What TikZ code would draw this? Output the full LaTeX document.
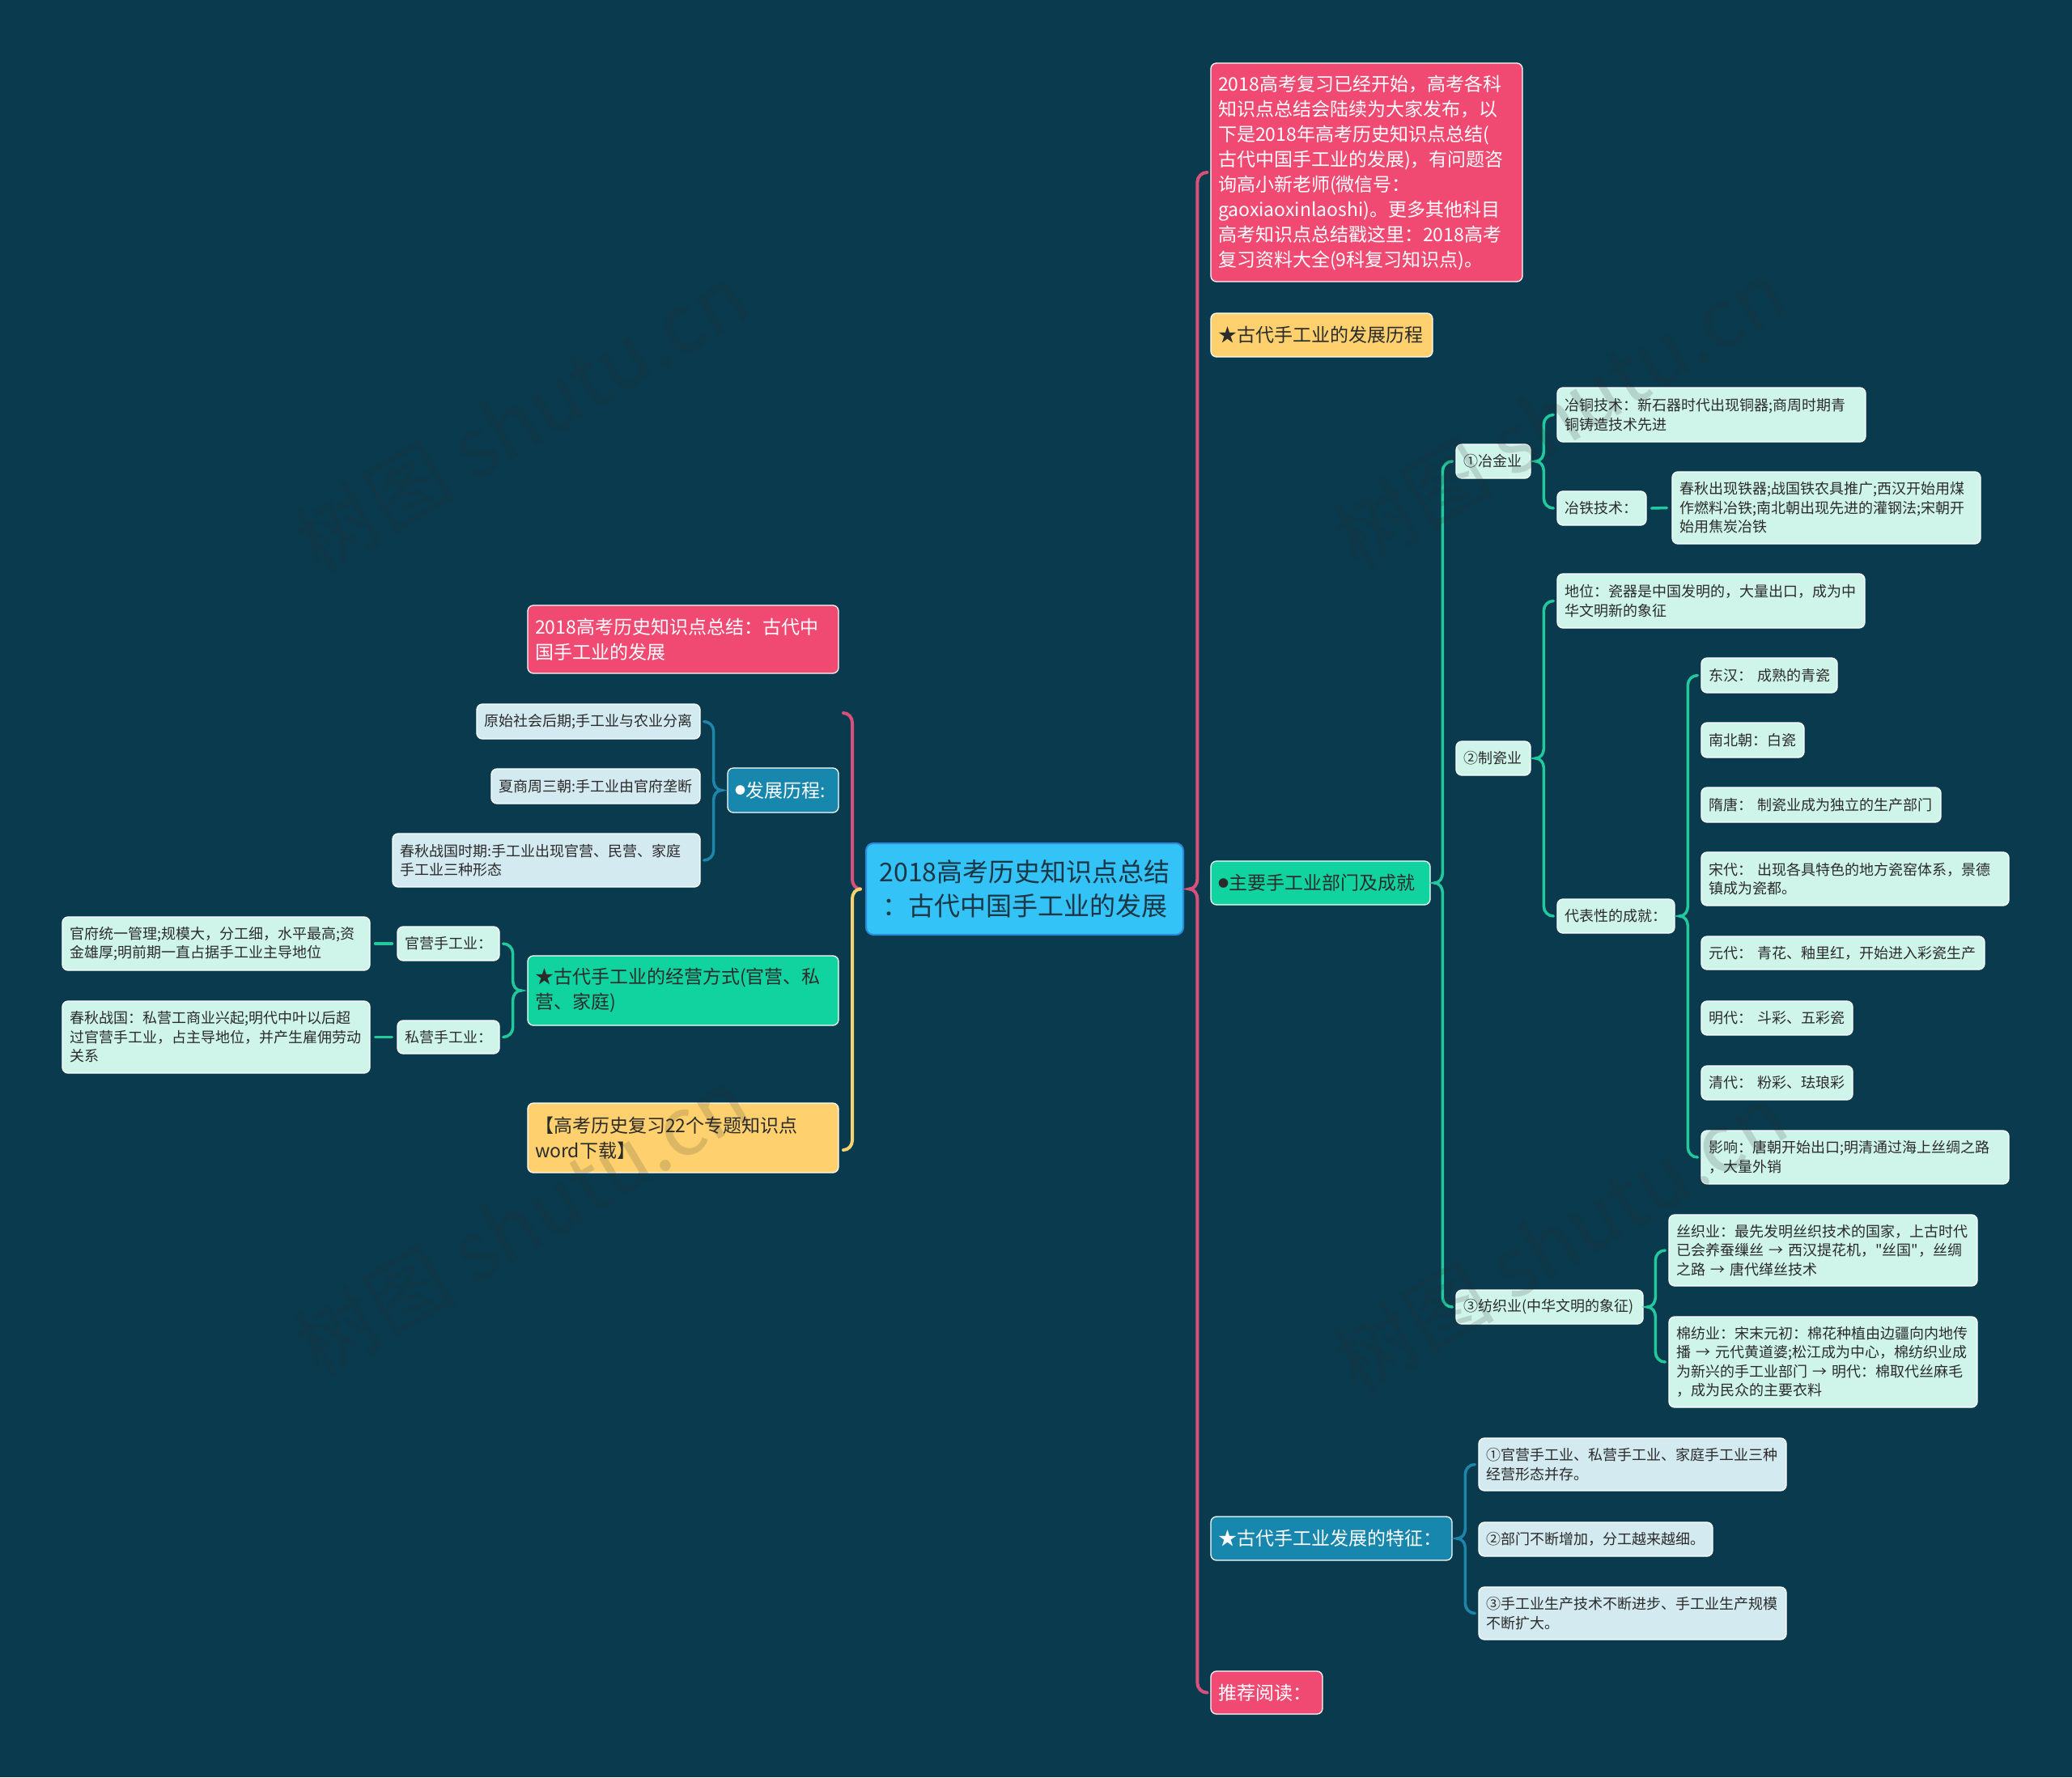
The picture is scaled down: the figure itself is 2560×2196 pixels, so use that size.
\documentclass[tikz,border=0pt]{standalone}
\usepackage{fontspec}
\setmainfont{Noto Sans CJK SC}[Ligatures=TeXOff]
\usetikzlibrary{calc}
\definecolor{cBg}{HTML}{093A4D}
\definecolor{cPink}{HTML}{F04A73}
\definecolor{cYellow}{HTML}{FED16E}
\definecolor{cGreen}{HTML}{11D39F}
\definecolor{cBlue}{HTML}{1787AD}
\definecolor{cRoot}{HTML}{33C3F6}
\definecolor{cRootB}{HTML}{2C88D8}
\definecolor{cMint}{HTML}{CFF5EB}
\definecolor{cLBlue}{HTML}{D3EAF0}
\definecolor{cTxt}{HTML}{2B2B2B}
\definecolor{cRootT}{HTML}{1C3645}
\definecolor{lPink}{HTML}{D9507A}
\definecolor{lGreen}{HTML}{22C99C}
\definecolor{lBlue}{HTML}{1D86AA}
\definecolor{lYellow}{HTML}{F6D271}
\definecolor{cWm}{HTML}{2A2A2A}
\newcommand\fsL{\fontsize{32}{42}\selectfont}
\newcommand\fsM{\fontsize{23}{31}\selectfont}
\newcommand\fsS{\fontsize{18}{23.5}\selectfont}
\newcommand\bul{\raisebox{3.5pt}{\fontsize{13}{13}\selectfont ●}}
\newcommand\bx[7]{%
 \pgfmathsetmacro\bxcx{(#2+#4)/2}%
 \pgfmathsetmacro\bxcy{(#3+#5)/2}%
 \pgfmathsetmacro\bxw{#4-#2}%
 \pgfmathsetmacro\bxh{#5-#3}%
 \pgfmathsetmacro\bxtw{#4-#2-18}%
 \node[#6, minimum width=\bxw pt, minimum height=\bxh pt, text width=\bxtw pt] (#1) at (\bxcx,\bxcy) {#7};}
% bracket, children on the right
\newcommand\brR[4]{%
 \draw[#1] let \p1=(#2.west), \p2=(#3.west), \p3=(#4.east) in
  (\x1-4pt,\y1) to[out=180,in=90] (\x1-16pt,\y1-12pt) -- (\x1-16pt,\y3+12pt)
  to[out=-90,in=0] (\x1-26pt,\y3) to[out=0,in=90] (\x1-16pt,\y3-12pt)
  -- (\x1-16pt,\y2+12pt) to[out=-90,in=180] (\x1-4pt,\y2);}
% bracket, children on the left
\newcommand\brL[4]{%
 \draw[#1] let \p1=(#2.east), \p2=(#3.east), \p3=(#4.west) in
  (\x1+4pt,\y1) to[out=0,in=90] (\x1+16pt,\y1-12pt) -- (\x1+16pt,\y3+12pt)
  to[out=-90,in=180] (\x1+26pt,\y3) to[out=180,in=90] (\x1+16pt,\y3-12pt)
  -- (\x1+16pt,\y2+12pt) to[out=-90,in=0] (\x1+4pt,\y2);}
\tikzset{
 base/.style={rounded corners=7pt, inner xsep=9pt, inner ysep=2pt, align=left, line width=1.3pt, draw=white},
 pinkn/.style={base, fill=cPink, text=white, font=\fsM},
 yelln/.style={base, fill=cYellow, text=cTxt, font=\fsM},
 greenn/.style={base, fill=cGreen, text=cTxt, font=\fsM},
 bluen/.style={base, fill=cBlue, text=white, font=\fsM},
 rootn/.style={base, rounded corners=9pt, fill=cRoot, draw=cRootB, line width=2pt, text=cRootT, font=\fsL, align=center},
 mintn/.style={base, fill=cMint, text=cTxt, font=\fsS},
 lbluen/.style={base, fill=cLBlue, text=cTxt, font=\fsS},
 conn/.style={line width=4pt, line cap=round},
 cpink/.style={conn, lPink},
 cgreen/.style={conn, lGreen, line width=3.5pt},
 cblue/.style={conn, lBlue, line width=3.5pt},
 cyellow/.style={conn, lYellow},
 wmark/.style={text=cWm, text opacity=0.16, font=\fontsize{100}{100}\selectfont, rotate=31, inner sep=0pt},
}
\begin{document}
\begin{tikzpicture}[x=1pt,y=-1pt]
\fill[cBg] (0,0) rectangle (2560,2196);
\useasboundingbox (0,0) rectangle (2560,2196);
% root
\bx{root}{1070}{1042}{1462}{1155}{rootn}{2018高考历史知识点总结\\：古代中国手工业的发展}
% right level 1
\bx{intro}{1496}{78}{1881}{348}{pinkn}{2018高考复习已经开始，高考各科\\知识点总结会陆续为大家发布，以\\下是2018年高考历史知识点总结(\\古代中国手工业的发展)，有问题咨\\询高小新老师(微信号：\\gaoxiaoxinlaoshi)。更多其他科目\\高考知识点总结戳这里：2018高考\\复习资料大全(9科复习知识点)。}
\bx{devh}{1496}{387}{1770}{441}{yelln}{★古代手工业的发展历程}
\bx{main}{1496}{1064}{1767}{1118}{greenn}{\bul 主要手工业部门及成就}
\bx{feat}{1496}{1874}{1794}{1928}{bluen}{★古代手工业发展的特征：}
\bx{rec}{1496}{2065}{1634}{2118}{pinkn}{推荐阅读：}
% right level 2
\bx{yj}{1799}{549}{1891}{591}{mintn}{①冶金业}
\bx{zc}{1799}{916}{1891}{958}{mintn}{②制瓷业}
\bx{fz}{1799}{1594}{2030}{1636}{mintn}{③纺织业(中华文明的象征)}
% level 3
\bx{yt}{1924}{479}{2305}{546}{mintn}{冶铜技术：新石器时代出现铜器;商周时期青\\铜铸造技术先进}
\bx{ytie}{1924}{607}{2034}{649}{mintn}{冶铁技术：}
\bx{ytd}{2066}{583}{2447}{672}{mintn}{春秋出现铁器;战国铁农具推广;西汉开始用煤\\作燃料冶铁;南北朝出现先进的灌钢法;宋朝开\\始用焦炭冶铁}
\bx{dw}{1924}{709}{2304}{776}{mintn}{地位：瓷器是中国发明的，大量出口，成为中\\华文明新的象征}
\bx{db}{1924}{1111}{2069}{1153}{mintn}{代表性的成就：}
\bx{c1}{2102}{813}{2270}{856}{mintn}{东汉：~成熟的青瓷}
\bx{c2}{2102}{893}{2229}{936}{mintn}{南北朝：白瓷}
\bx{c3}{2102}{973}{2398}{1016}{mintn}{隋唐：~制瓷业成为独立的生产部门}
\bx{c4}{2102}{1053}{2482}{1119}{mintn}{宋代：~出现各具特色的地方瓷窑体系，景德\\镇成为瓷都。}
\bx{c5}{2102}{1157}{2452}{1198}{mintn}{元代：~青花、釉里红，开始进入彩瓷生产}
\bx{c6}{2102}{1237}{2289}{1279}{mintn}{明代：~斗彩、五彩瓷}
\bx{c7}{2102}{1317}{2289}{1359}{mintn}{清代：~粉彩、珐琅彩}
\bx{c8}{2102}{1397}{2482}{1463}{mintn}{影响：唐朝开始出口;明清通过海上丝绸之路\\，大量外销}
\bx{sz}{2062}{1501}{2443}{1589}{mintn}{丝织业：最先发明丝织技术的国家，上古时代\\已会养蚕缫丝~→~西汉提花机，"丝国"，丝绸\\之路~→~唐代缂丝技术}
\bx{mf}{2062}{1627}{2443}{1739}{mintn}{棉纺业：宋末元初：棉花种植由边疆向内地传\\播~→~元代黄道婆;松江成为中心，棉纺织业成\\为新兴的手工业部门~→~明代：棉取代丝麻毛\\，成为民众的主要衣料}
\bx{f1}{1827}{1777}{2207}{1842}{lbluen}{①官营手工业、私营手工业、家庭手工业三种\\经营形态并存。}
\bx{f2}{1827}{1881}{2116}{1923}{lbluen}{②部门不断增加，分工越来越细。}
\bx{f3}{1827}{1961}{2207}{2026}{lbluen}{③手工业生产技术不断进步、手工业生产规模\\不断扩大。}
% left side
\bx{title}{652}{748}{1036}{832}{pinkn}{2018高考历史知识点总结：古代中\\国手工业的发展}
\bx{dh}{899}{949}{1036}{1004}{bluen}{\bul 发展历程:}
\bx{d1}{589}{870}{865}{913}{lbluen}{原始社会后期;手工业与农业分离}
\bx{d2}{607}{950}{865}{993}{lbluen}{夏商周三朝:手工业由官府垄断}
\bx{d3}{485}{1030}{865}{1096}{lbluen}{春秋战国时期:手工业出现官营、民营、家庭\\手工业三种形态}
\bx{jy}{652}{1181}{1036}{1267}{greenn}{★古代手工业的经营方式(官营、私\\营、家庭)}
\bx{gk}{652}{1363}{1036}{1449}{yelln}{【高考历史复习22个专题知识点\\word下载】}
\bx{gy}{491}{1145}{617}{1187}{mintn}{官营手工业：}
\bx{sy}{491}{1261}{617}{1302}{mintn}{私营手工业：}
\bx{gf}{77}{1133}{457}{1199}{mintn}{官府统一管理;规模大，分工细，水平最高;资\\金雄厚;明前期一直占据手工业主导地位}
\bx{cq}{77}{1237}{457}{1326}{mintn}{春秋战国：私营工商业兴起;明代中叶以后超\\过官营手工业，占主导地位，并产生雇佣劳动\\关系}
% connectors right
\brR{cpink}{intro}{rec}{root}
\brR{cgreen}{yj}{fz}{main}
\brR{cgreen}{yt}{ytie}{yj}
\brR{cgreen}{dw}{db}{zc}
\brR{cgreen}{c1}{c8}{db}
\brR{cgreen}{sz}{mf}{fz}
\brR{cblue}{f1}{f3}{feat}
\draw[cgreen] ([xshift=6pt]ytie.east) -- ([xshift=-6pt]ytd.west);
% connectors left
\coordinate (lt) at (1042,881);
\coordinate (lb) at (1042,1421);
\draw[cpink] let \p1=(lt), \p3=(root.west) in
  (\p1) to[out=0,in=90] (\x1+11pt,\y1-12pt) -- (\x1+11pt,\y3+12pt)
  to[out=-90,in=180] (\x1+21pt,\y3);
\draw[cyellow] let \p2=(lb), \p3=(root.west) in
  (\x2+21pt,\y3) to[out=180,in=90] (\x2+11pt,\y3-12pt)
  -- (\x2+11pt,\y2+12pt) to[out=-90,in=0] (\p2);
\brL{cblue}{d1}{d3}{dh}
\brL{cgreen}{gy}{sy}{jy}
\draw[cgreen] ([xshift=-6pt]gy.west) -- ([xshift=6pt]gf.east);
\draw[cgreen] ([xshift=-6pt]sy.west) -- ([xshift=6pt]cq.east);
% watermarks
\node[wmark] (wm1) at (644,517) {树图 shutu.cn};
\node[wmark] (wm2) at (1927,512) {树图 shutu.cn};
\node[wmark] (wm3) at (644,1510) {树图 shutu.cn};
\node[wmark] (wm4) at (1927,1530) {树图 shutu.cn};
\end{tikzpicture}
\end{document}
